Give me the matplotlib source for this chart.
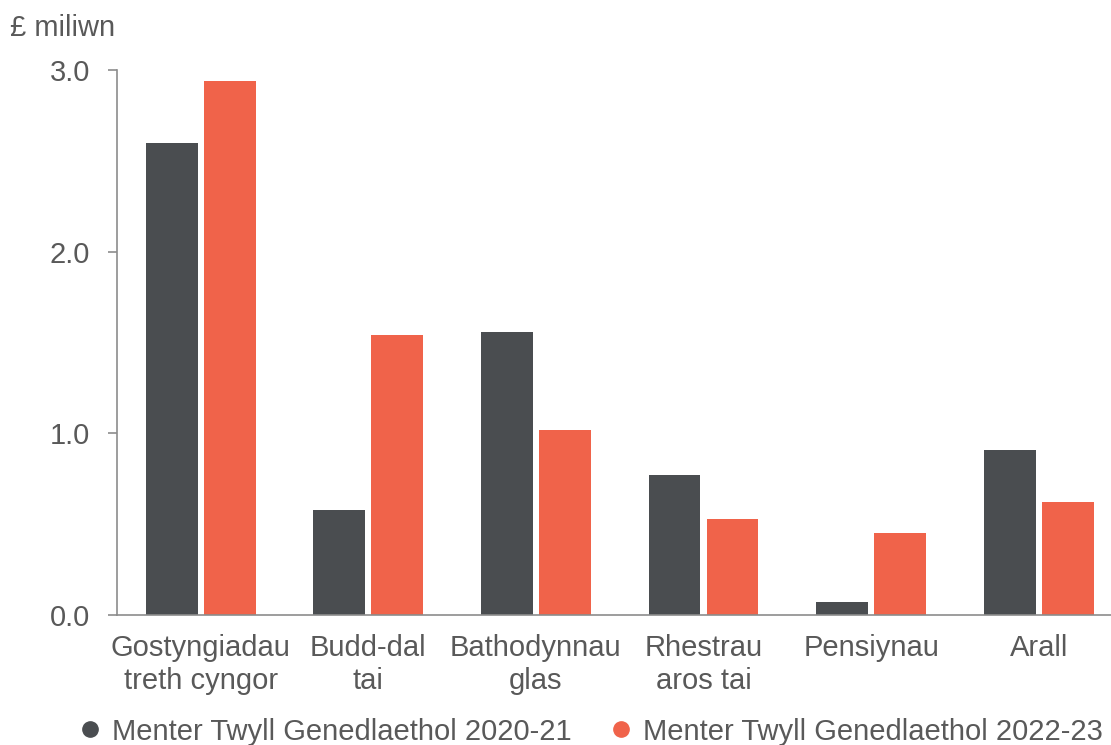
import numpy as np
import matplotlib.pyplot as plt
from matplotlib.lines import Line2D

categories = ['Gostyngiadau\ntreth cyngor', 'Budd-dal\ntai', 'Bathodynnau\nglas',
              'Rhestrau\naros tai', 'Pensiynau', 'Arall']
values_2020 = [2.60, 0.58, 1.56, 0.77, 0.07, 0.91]
values_2022 = [2.94, 1.54, 1.02, 0.53, 0.45, 0.62]
series_names = ['Menter Twyll Genedlaethol 2020-21', 'Menter Twyll Genedlaethol 2022-23']
y_ticks = [0.0, 1.0, 2.0, 3.0]

dark = '#4a4d50'
red = '#f0634a'
text_col = '#595959'
axis_col = '#8c8c8c'
fs = 21

plt.rcParams['font.family'] = ['Liberation Sans', 'DejaVu Sans']

fig = plt.figure(figsize=(11.11, 7.45), dpi=100)
ax = fig.add_axes([0.1053, 0.1745, 0.905, 0.7315])

x = np.arange(len(categories))
ax.bar(x - 0.173, values_2020, width=0.31, color=dark)
ax.bar(x + 0.173, values_2022, width=0.31, color=red)

ax.set_xlim(-0.5, len(categories) - 0.5)
ax.set_ylim(0, 3.0)
ax.set_yticks(y_ticks)
ax.set_yticklabels(['%.1f' % v for v in y_ticks])
ax.set_xticks(x)
ax.set_xticklabels(categories, linespacing=1.2)

for s in ['top', 'right']:
    ax.spines[s].set_visible(False)
ax.spines['left'].set_color(axis_col)
ax.spines['bottom'].set_color(axis_col)
ax.spines['left'].set_linewidth(1.2)
ax.spines['bottom'].set_linewidth(1.2)
ax.tick_params(axis='y', length=6.5, width=1.2, color=axis_col, labelsize=fs,
               labelcolor=text_col, pad=13)
ax.tick_params(axis='x', length=0, labelsize=fs, labelcolor=text_col, pad=14)

fig.text(0.009, 0.962, '£ miliwn', fontsize=fs, color=text_col, va='center', ha='left')

handles = [Line2D([], [], marker='o', linestyle='none', markersize=11, color=dark),
           Line2D([], [], marker='o', linestyle='none', markersize=11, color=red)]
fig.legend(handles, series_names, loc='center', bbox_to_anchor=(0.530, 0.018),
           ncol=2, frameon=False, fontsize=fs, labelcolor=text_col,
           handletextpad=0.25, columnspacing=1.2, handlelength=1.0)

fig.savefig('out.png', dpi=100)
